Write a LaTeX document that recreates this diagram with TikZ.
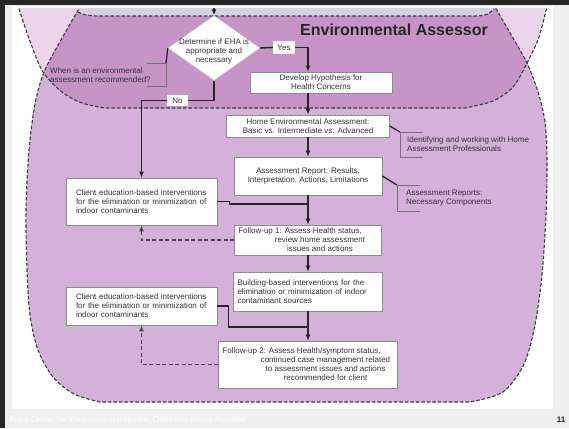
\documentclass[tikz,border=0pt]{standalone}
\usepackage{fontspec}
\setmainfont{Liberation Sans}
\newfontfamily\footfont{Carlito}
\usetikzlibrary{arrows.meta,calc,shapes.geometric}

\definecolor{pinkL}{HTML}{ECD5EA}
\definecolor{lightP}{HTML}{D3B1D8}
\definecolor{darkP}{HTML}{C794C8}
\definecolor{lavT}{HTML}{D7D1E7}
\definecolor{slidebg}{HTML}{EFEFEF}
\definecolor{txt}{HTML}{333333}
\definecolor{ink}{HTML}{262626}

\def\Eline{plot[smooth] coordinates {(16,-2) (20,12) (31,44) (43,72) (62,92) (82,103) (105,108)} -- (465,108) -- plot[smooth] coordinates {(465,108) (493,101) (513,87) (527,63) (539,37) (549,-2)}}
\def\Efill{\Eline -- (549,-20) -- (16,-20) -- cycle}
\def\Lline{plot[smooth] coordinates {(84,0) (77,12) (61,40) (44,72) (35,104) (29,150) (26,210) (27,270) (30,315) (38,350) (53,377) (74,394) (100,402)} -- (470,402) -- plot[smooth] coordinates {(470,402) (503,392) (524,364) (535,325) (542,275) (546,215) (547,160) (545,122) (538,92) (527,63) (510,33) (491,0)}}
\def\Lfill{\Lline -- (491,-20) -- (84,-20) -- cycle}

\begin{document}
\begin{tikzpicture}[x=1pt,y=-1pt,
  box/.style={draw=black!45, line width=0.6pt, fill=white, inner sep=2pt, font=\fontsize{8}{9}\selectfont, text=txt},
  conn/.style={draw=ink, line width=1.4pt},
  arr/.style={conn, -{Latex[length=6pt,width=5pt]}},
  darr/.style={draw=ink!85, line width=1.2pt, dash pattern=on 4pt off 2.5pt, -{Latex[length=6pt,width=5pt]}},
  outline/.style={draw=ink!90, line width=1.1pt, dash pattern=on 3.5pt off 2pt},
  brk/.style={draw=black!55, line width=0.5pt},
  lead/.style={draw=ink, line width=1.3pt},
  note/.style={font=\fontsize{8}{9}\selectfont, text=txt, align=left, inner sep=0pt, anchor=west},
  lbl/.style={fill=white, inner sep=0pt, font=\fontsize{8}{9}\selectfont, text=txt}
]
\useasboundingbox (0,0) rectangle (569,428);
% slide background
\fill[slidebg] (0,0) rectangle (569,428);
\fill[black!85] (0,0) rectangle (5,428);
\fill[black!85] (0,0) rectangle (569,5);
\fill[white] (12,6) rectangle (553,409);

% regions
\begin{scope}
  \clip (12,9) rectangle (553,409);
  \fill[pinkL] \Efill;
  \fill[lightP] \Lfill;
  \begin{scope}
    \clip \Efill;
    \fill[darkP] \Lfill;
  \end{scope}
  \begin{scope}
    \clip \Lfill;
    \fill[lavT] (60,-5) -- (78,12) .. controls (84,15) .. (97,16) -- (478,16) .. controls (487,15) .. (494,9) -- (505,-5) -- cycle;
  \end{scope}
  \draw[outline] \Eline;
  \draw[outline] \Lline;
  \draw[outline] (78,12) .. controls (84,15) .. (97,16) -- (478,16) .. controls (487,15) .. (494,9);
\end{scope}

% title
\node[font=\bfseries\fontsize{16}{18}\selectfont, text=ink] (title) at (394,30) {Environmental Assessor};

% decision
\node[diamond, draw=black!25, line width=0.4pt, fill=white, minimum width=92pt, minimum height=65pt, inner sep=0pt] (dia) at (214,48) {};
\node[font=\fontsize{8}{9}\selectfont, text=txt, align=center, inner sep=0pt] (diat) at (214,51) {Determine if EHA is\\appropriate and\\necessary};
\coordinate (dtop) at (214,8);
\draw[arr] (dtop) -- (dia.north);

\node[lbl, minimum width=22pt, minimum height=13pt] (yes) at (284,47.5) {Yes};
\node[lbl, minimum width=21pt, minimum height=11pt] (no) at (177.5,100.5) {No};

% main column
\node[box, minimum width=142pt, minimum height=21pt, align=center] (dev) at (321,82.5) {Develop Hypothesis for\\Health Concerns};
\node[box, minimum width=163pt, minimum height=22pt, align=center] (home) at (308,126) {Home Environmental Assessment:\\Basic vs. Intermediate vs. Advanced};
\node[box, minimum width=148pt, minimum height=38pt, align=center] (rep) at (308,176) {Assessment Report: Results,\\Interpretation, Actions, Limitations};
\node[box, minimum width=147pt, minimum height=30pt, align=center] (fu1) at (308,240) {Follow-up 1: Assess Health status,\rule{16pt}{0pt}\\\rule{24pt}{0pt}review home assessment\\\rule{24pt}{0pt}issues and actions};
\node[box, minimum width=149pt, minimum height=39pt, inner xsep=4pt, text width=141pt, align=left] (bld) at (308,291.5) {Building-based interventions for the\\elimination or minimization of indoor\\contaminant sources};
\node[box, minimum width=179pt, minimum height=47pt, align=center] (fu2) at (308,364.5) {Follow-up 2: Assess Health/symptom status,\rule{13pt}{0pt}\\\rule{35pt}{0pt}continued case management related\\\rule{35pt}{0pt}to assessment issues and actions\\\rule{35pt}{0pt}recommended for client};

% client boxes
\node[box, minimum width=151pt, minimum height=47pt, inner xsep=10pt, text width=131pt, align=left] (cl1) at (141.5,201.5) {Client education-based interventions\\for the elimination or minimization of\\indoor contaminants};
\node[box, minimum width=151pt, minimum height=38pt, inner xsep=10pt, text width=131pt, align=left] (cl2) at (141.5,306) {Client education-based interventions\\for the elimination or minimization of\\indoor contaminants};

% connectors
\draw[conn] (dia.east) -- (yes.west);
\draw[arr] (yes.east) -| (dev.north -| home.north);
\draw[arr] (dev.south -| home.north) -- (home.north);
\draw[arr] (home.south) -- (rep.north);
\draw[arr] (rep.south) -- (fu1.north);
\draw[conn] (cl1.east) -- ++(12,0) |- ($(rep.south)!0.3!(fu1.north)$);
\draw[arr] (fu1.south) -- (bld.north);
\draw[arr] (bld.south) -- (fu2.north);
\draw[conn] (cl2.east) -- ++(11,0) |- ($(bld.south)!0.53!(fu2.north)$);
\draw[conn] (dia.south) |- (no.east);
\draw[arr] (no.west) -| (cl1.north);
\draw[darr] (fu1.west) -| (cl1.south);
\draw[darr] (fu2.west) -| (cl2.south);

% callouts
\node[note] (q1) at (50,75.5) {When is an environmental\\assessment recommended?};
\coordinate (b1) at (166,63);
\draw[brk] (147,63) -- (b1) -- (166,86) -- (147,86);
\draw[lead] (b1) -- (dia.west);

\node[note] (q2) at (407,144.5) {Identifying and working with Home\\Assessment Professionals};
\coordinate (b2) at (400,132);
\draw[lead] (home.east) -- (b2);
\draw[brk] (423,132) -- (b2) -- (400,157) -- (423,157);

\node[note] (q3) at (406,198.5) {Assessment Reports:\\Necessary Components};
\coordinate (b3) at (397,185);
\draw[lead] (rep.east) -- (b3);
\draw[brk] (420,185) -- (b3) -- (397,211) -- (420,211);

% footer
\node[font=\footfont\itshape\fontsize{9}{10}\selectfont, text=white, anchor=west, inner sep=0pt] (foot) at (10,420) {From Center for Environmental Health, Children's Mercy Hospital};
\node[font=\bfseries\fontsize{8}{9}\selectfont, text=ink, inner sep=0pt] (pg) at (561,420) {11};
\end{tikzpicture}
\end{document}
